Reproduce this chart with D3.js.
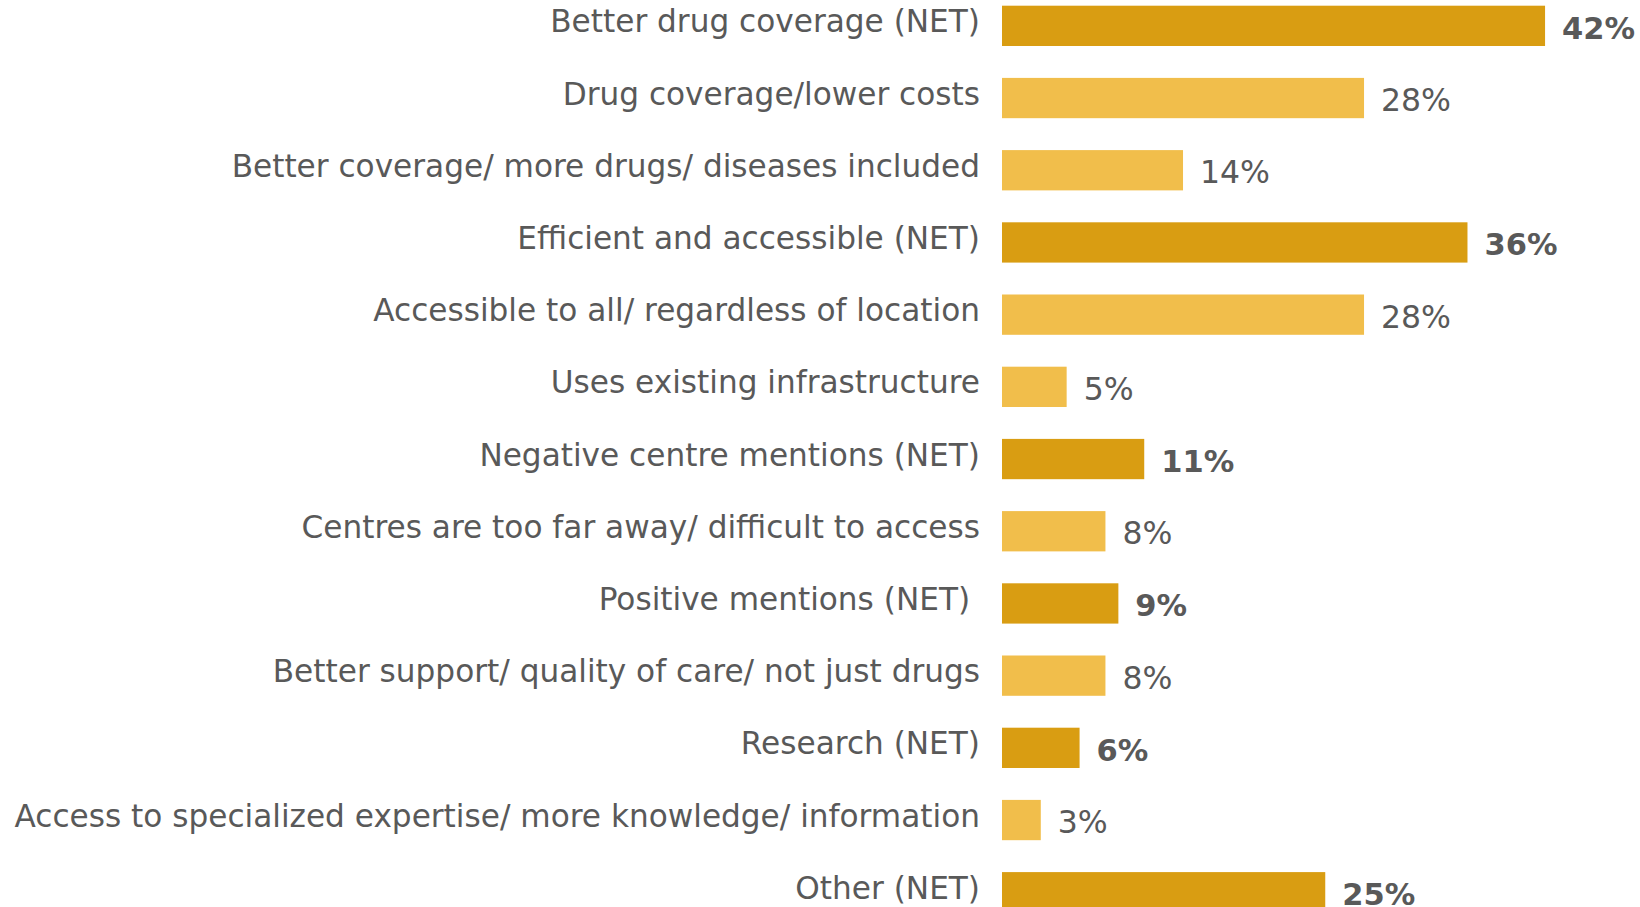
<!DOCTYPE html>
<html>
<head>
<meta charset="utf-8">
<script src="https://cdn.jsdelivr.net/npm/d3@7"></script>
<style>
  html, body { margin: 0; padding: 0; background: #ffffff; overflow: hidden; }
  svg { display: block; }
  text { white-space: pre; }
</style>
</head>
<body>
<svg id="chart" width="1640" height="907"></svg>
<script>
// ---- data ----
const categories = [
  "Better drug coverage (NET)",
  "Drug coverage/lower costs",
  "Better coverage/ more drugs/ diseases included",
  "Efficient and accessible (NET)",
  "Accessible to all/ regardless of location",
  "Uses existing infrastructure",
  "Negative centre mentions (NET)",
  "Centres are too far away/ difficult to access",
  "Positive mentions (NET) ",
  "Better support/ quality of care/ not just drugs",
  "Research (NET)",
  "Access to specialized expertise/ more knowledge/ information",
  "Other (NET)"
];
const values = [42, 28, 14, 36, 28, 5, 11, 8, 9, 8, 6, 3, 25];
const isNet = [true, false, false, true, false, false, true, false, true, false, true, false, true];

// ---- layout ----
const W = 1640, H = 907;
const svg = d3.select("#chart");
const fontFamily = "'DejaVu Sans', 'Noto Sans', sans-serif";

const step = 72.2;
const pad = 0.442;
const y0 = 5.7 - step * pad / 2;
const y = d3.scaleBand()
  .domain(categories)
  .range([y0, y0 + step * categories.length])
  .paddingInner(pad)
  .paddingOuter(pad / 2);

const x = d3.scaleLinear().domain([0, 100]).range([1002, 1002 + 1293]);

// fit font sizes by measuring
function measure(str, size, weight) {
  const t = svg.append("text").attr("font-family", fontFamily)
    .attr("font-size", size).attr("font-weight", weight).text(str);
  const w = t.node().getComputedTextLength();
  t.remove();
  return w;
}
const labelSize = 100 * 966 / measure(categories[11], 100, "normal");
const valueSize = 100 * 70 / measure("28%", 100, "normal");
const valueBoldSize = 100 * 73 / measure("42%", 100, "bold");

const colorNet = "#D99D12";
const colorSub = "#F1BE4B";
const textColor = "#595959";

const rows = svg.append("g").selectAll("g")
  .data(categories.map((c, i) => ({ c, v: values[i], net: isNet[i] })))
  .join("g");

rows.append("rect")
  .attr("x", x(0))
  .attr("y", d => y(d.c))
  .attr("width", d => x(d.v) - x(0))
  .attr("height", y.bandwidth())
  .attr("fill", d => d.net ? colorNet : colorSub);

rows.append("text")
  .attr("x", 980)
  .attr("y", d => y(d.c) + y.bandwidth() / 2 + 6.5)
  .attr("text-anchor", "end")
  .attr("font-family", fontFamily)
  .attr("font-size", labelSize)
  .attr("fill", textColor)
  .text(d => d.c);

rows.append("text")
  .attr("x", d => x(d.v) + 17)
  .attr("y", d => y(d.c) + y.bandwidth() / 2 + 13)
  .attr("font-family", fontFamily)
  .attr("font-size", d => d.net ? valueBoldSize : valueSize)
  .attr("font-weight", d => d.net ? "bold" : "normal")
  .attr("fill", textColor)
  .text(d => d.v + "%");
</script>
</body>
</html>
